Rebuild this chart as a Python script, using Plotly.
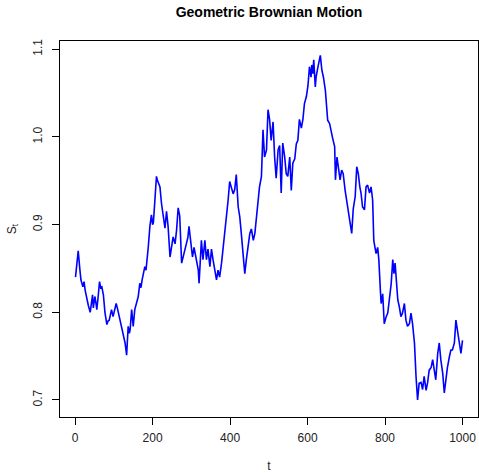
import plotly.graph_objects as go

# Time index and path values
t_vals = [1, 5, 8, 12, 15, 20, 23, 26, 30, 34, 39, 42, 45, 47, 51, 54, 56, 60, 63, 66,
          69, 73, 77, 82, 85, 88, 91, 94, 98, 102, 106, 109, 112, 116, 120, 124, 129, 133, 137, 140,
          142, 146, 150, 154, 158, 163, 167, 170, 173, 177, 180, 183, 186, 189, 193, 197, 200, 202, 206, 210,
          212, 214, 219, 223, 227, 232, 236, 240, 245, 249, 253, 258, 262, 266, 270, 275, 279, 283, 288, 291,
          294, 297, 300, 303, 307, 313, 318, 320, 323, 326, 330, 335, 339, 343, 348, 352, 356, 361, 365, 369,
          373, 378, 382, 386, 391, 395, 399, 403, 408, 412, 416, 421, 425, 429, 434, 438, 442, 446, 451, 455,
          460, 464, 468, 472, 476, 481, 485, 489, 494, 498, 502, 506, 511, 515, 519, 524, 528, 532, 536, 541,
          545, 549, 554, 558, 562, 567, 571, 575, 579, 584, 588, 592, 597, 601, 605, 609, 611, 614, 616, 620,
          622, 627, 631, 633, 637, 641, 646, 650, 652, 657, 661, 665, 670, 672, 676, 680, 684, 688, 692, 697,
          701, 705, 710, 714, 718, 723, 727, 731, 735, 738, 742, 747, 751, 755, 760, 764, 768, 771, 774, 777,
          781, 784, 788, 790, 794, 798, 803, 807, 811, 816, 820, 823, 826, 829, 833, 837, 841, 845, 850, 854,
          858, 863, 867, 871, 876, 880, 884, 888, 893, 897, 901, 906, 910, 914, 919, 923, 927, 931, 936, 940,
          944, 949, 953, 957, 961, 966, 970, 974, 979, 983, 987, 991, 996, 1000]

s_vals = [0.840, 0.855, 0.870, 0.850, 0.837, 0.829, 0.835, 0.825, 0.814, 0.808, 0.800, 0.812, 0.820, 0.805, 0.818, 0.810, 0.803, 0.820, 0.835, 0.828,
          0.829, 0.820, 0.800, 0.786, 0.790, 0.791, 0.798, 0.803, 0.795, 0.803, 0.810, 0.805, 0.799, 0.788, 0.780, 0.772, 0.765, 0.751, 0.784, 0.776,
          0.780, 0.803, 0.784, 0.803, 0.810, 0.818, 0.833, 0.828, 0.837, 0.845, 0.852, 0.848, 0.860, 0.875, 0.898, 0.911, 0.900, 0.902, 0.928, 0.955,
          0.951, 0.948, 0.943, 0.924, 0.909, 0.896, 0.915, 0.898, 0.863, 0.875, 0.886, 0.878, 0.894, 0.919, 0.910, 0.856, 0.863, 0.871, 0.879, 0.885,
          0.898, 0.887, 0.875, 0.863, 0.874, 0.860, 0.848, 0.833, 0.860, 0.882, 0.860, 0.882, 0.860, 0.872, 0.852, 0.872, 0.860, 0.844, 0.837, 0.848,
          0.840, 0.856, 0.872, 0.890, 0.909, 0.928, 0.949, 0.943, 0.935, 0.940, 0.957, 0.920, 0.909, 0.890, 0.863, 0.844, 0.860, 0.875, 0.890, 0.895,
          0.882, 0.890, 0.911, 0.924, 0.943, 0.955, 1.008, 0.977, 0.985, 1.031, 1.020, 0.996, 1.017, 0.977, 0.953, 0.985, 0.990, 0.936, 0.993, 0.977,
          0.958, 0.955, 0.977, 0.939, 0.970, 0.975, 0.992, 0.996, 1.020, 1.010, 1.020, 1.038, 1.046, 1.058, 1.080, 1.068, 1.082, 1.072, 1.088, 1.057,
          1.068, 1.080, 1.088, 1.093, 1.076, 1.068, 1.053, 1.034, 1.019, 1.015, 1.004, 0.998, 0.989, 0.951, 0.977, 0.966, 0.951, 0.962, 0.958, 0.939,
          0.928, 0.913, 0.901, 0.890, 0.918, 0.932, 0.966, 0.958, 0.943, 0.936, 0.920, 0.917, 0.943, 0.945, 0.936, 0.943, 0.928, 0.882, 0.874, 0.867,
          0.874, 0.860, 0.825, 0.810, 0.821, 0.787, 0.795, 0.799, 0.814, 0.833, 0.860, 0.844, 0.856, 0.840, 0.814, 0.806, 0.795, 0.799, 0.810, 0.791,
          0.784, 0.787, 0.799, 0.787, 0.765, 0.727, 0.700, 0.719, 0.720, 0.712, 0.727, 0.711, 0.720, 0.734, 0.737, 0.746, 0.734, 0.723, 0.753, 0.765,
          0.746, 0.730, 0.708, 0.727, 0.737, 0.749, 0.757, 0.757, 0.765, 0.791, 0.780, 0.765, 0.753, 0.768]

x_ticks = [0, 200, 400, 600, 800, 1000]
y_ticks = [0.7, 0.8, 0.9, 1.0, 1.1]
y_tick_text = ["0.7", "0.8", "0.9", "1.0", "1.1"]

font_family = "Liberation Sans, Arial, Helvetica, sans-serif"

fig = go.Figure(go.Scatter(x=t_vals, y=s_vals, mode="lines",
                           line=dict(color="#0000FF", width=1.6),
                           hoverinfo="skip"))

axis_common = dict(showgrid=False, zeroline=False, showline=True, mirror=True,
                   linecolor="#000000", linewidth=1, ticks="outside", ticklen=7,
                   tickwidth=1, tickcolor="#000000", automargin=False,
                   ticklabeloverflow="allow",
                   tickfont=dict(size=12, color="#222222", family=font_family))

fig.update_layout(
    width=479, height=473,
    margin=dict(l=60, r=1, t=41, b=56),
    paper_bgcolor="white", plot_bgcolor="white",
    showlegend=False,
    font=dict(family=font_family, color="#000000"),
    title=dict(text="<b>Geometric Brownian Motion</b>", x=0.5, xanchor="center",
               xref="paper", yref="container", y=1 - 12 / 473, yanchor="middle",
               font=dict(size=14, color="#000000", family=font_family)),
    xaxis=dict(range=[-39, 1040], tickvals=x_ticks, ticklabelstandoff=3,
               title=dict(text="t", standoff=17, font=dict(size=12, color="#222222")),
               **axis_common),
    yaxis=dict(range=[0.6806, 1.1093], tickvals=y_ticks, ticktext=y_tick_text,
               tickangle=-90, ticklabelstandoff=5,
               title=dict(text="S<sub>t</sub>", standoff=12, font=dict(size=12, color="#222222")),
               **axis_common),
)

# Remove the browser's default 8px body margin so the figure fills the window.
fig.write_html("out.html",
               config={"displayModeBar": False},
               post_script="document.body.style.margin='0';document.body.style.padding='0';")
